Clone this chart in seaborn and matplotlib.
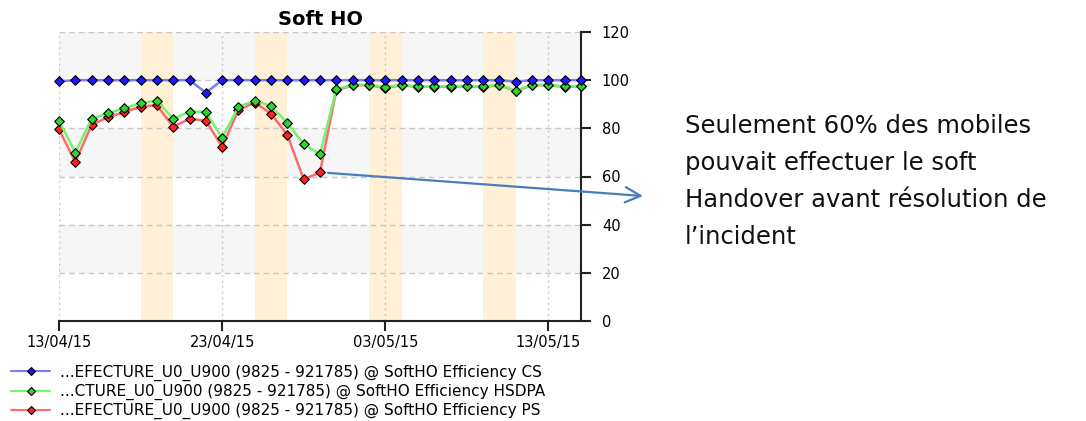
import matplotlib
matplotlib.use("Agg")
import matplotlib.pyplot as plt
import matplotlib.dates as mdates
from matplotlib.lines import Line2D
import numpy as np
import pandas as pd
import seaborn as sns

# daily samples 13/04/15 -> 15/05/15
dates = pd.date_range("2015-04-13", "2015-05-15", freq="D")

cs = [99.5, 100, 100, 100, 100, 100, 100, 100, 100, 94.8, 100, 100, 100, 100, 100, 100, 100,
      100, 100, 100, 100, 100, 100, 100, 100, 100, 100, 100, 99.4, 100, 100, 100, 100]
hsdpa = [83.2, 69.9, 84.0, 86.2, 88.3, 90.5, 91.5, 84.0, 86.9, 86.9, 76.0, 89.0, 91.5, 89.3, 82.2, 73.5, 69.2,
         96.2, 98.1, 98.1, 97.0, 98.1, 97.4, 97.4, 97.4, 97.7, 97.4, 98.1, 95.6, 98.1, 98.1, 97.4, 97.7]
ps = [79.6, 66.0, 81.4, 84.6, 86.7, 89.0, 89.6, 80.7, 83.9, 83.2, 72.3, 87.6, 90.7, 86.1, 77.2, 58.8, 61.7,
      95.8, 97.8, 97.9, 96.8, 97.9, 97.2, 97.2, 97.2, 97.5, 97.2, 97.9, 95.4, 97.9, 97.9, 97.2, 97.5]

weekends = ["2015-04-18", "2015-04-25", "2015-05-02", "2015-05-09"]
xticks = ["2015-04-13", "2015-04-23", "2015-05-03", "2015-05-13"]
yticks = [0, 20, 40, 60, 80, 100, 120]

labels = {
    "CS": "...EFECTURE_U0_U900 (9825 - 921785) @ SoftHO Efficiency CS",
    "HSDPA": "...CTURE_U0_U900 (9825 - 921785) @ SoftHO Efficiency HSDPA",
    "PS": "...EFECTURE_U0_U900 (9825 - 921785) @ SoftHO Efficiency PS",
}
line_col = {"CS": "#7b7bff", "HSDPA": "#6ff56f", "PS": "#ff6b6b"}
mark_col = {"CS": "#1a1aff", "HSDPA": "#2fd42f", "PS": "#ff2020"}

df = pd.concat([
    pd.DataFrame({"date": dates, "value": ps, "series": "PS"}),
    pd.DataFrame({"date": dates, "value": hsdpa, "series": "HSDPA"}),
    pd.DataFrame({"date": dates, "value": cs, "series": "CS"}),
])

sns.set_style("white")
plt.rcParams["font.family"] = ["DejaVu Sans"]
plt.rcParams["text.color"] = "black"

fig = plt.figure(figsize=(10.86, 4.21), dpi=100)
ax = fig.add_axes([59 / 1086, 100 / 421, 522 / 1086, 289 / 421])

# background bands
for lo in [20, 60, 100]:
    ax.axhspan(lo, lo + 20, color="#f6f6f6", zorder=0, lw=0)
for w in weekends:
    s = pd.Timestamp(w)
    ax.axvspan(s, s + pd.Timedelta(days=2), color="#fff0d6", zorder=0.5, lw=0)

for k, name in enumerate(["PS", "HSDPA", "CS"]):
    sub = df[df["series"] == name]
    sns.lineplot(data=sub, x="date", y="value", color=line_col[name], lw=1.8, ax=ax,
                 legend=False, zorder=3 + k, clip_on=False)
    sns.scatterplot(data=sub, x="date", y="value", color=mark_col[name], marker="D", s=24,
                    edgecolor="black", linewidth=0.8, ax=ax, legend=False, zorder=3.5 + k,
                    clip_on=False)

ax.set_xlim(dates[0], dates[-1])
ax.set_ylim(0, 120)
ax.set_xticks(pd.to_datetime(xticks))
ax.xaxis.set_major_formatter(mdates.DateFormatter("%d/%m/%y"))
ax.set_yticks(yticks)
ax.yaxis.tick_right()
ax.set_xlabel("")
ax.set_ylabel("")

ax.grid(False)
for y in yticks[1:]:
    ax.axhline(y, color="#c8c8c8", ls=(0, (4, 3)), lw=1, zorder=1)
for x in pd.to_datetime(xticks):
    ax.axvline(x, color="#c8c8c8", ls=(0, (1.5, 2.5)), lw=1, zorder=1)

for side in ["left", "top"]:
    ax.spines[side].set_visible(False)
for side in ["right", "bottom"]:
    ax.spines[side].set_color("#222222")
    ax.spines[side].set_linewidth(1.5)
ax.tick_params(axis="both", direction="out", length=7, width=1.5, color="#222222",
               labelsize=10.5, labelcolor="black", pad=3)
ax.tick_params(axis="y", right=True, left=False, pad=8)
ax.tick_params(axis="x", bottom=True)

ax.set_title("Soft HO", fontsize=14, fontweight="bold", pad=5, color="black")

handles = [Line2D([0], [0], color=line_col[n], lw=1.5, marker="D", markersize=4.5,
                  markerfacecolor=mark_col[n], markeredgecolor="black", markeredgewidth=0.8)
           for n in ["CS", "HSDPA", "PS"]]
fig.legend(handles, [labels[n] for n in ["CS", "HSDPA", "PS"]], loc="upper left",
           bbox_to_anchor=(0.0, 1 - 354 / 421), frameon=False, fontsize=11,
           handlelength=2.6, handletextpad=0.6, labelspacing=0.2, borderaxespad=0.3)

# annotation
ax.annotate("", xy=(643, 421 - 196), xycoords="figure pixels",
            xytext=(pd.Timestamp("2015-04-29 12:00"), 61.5), textcoords="data",
            arrowprops=dict(arrowstyle="->,head_length=1.1,head_width=0.55",
                            color="#4a7ebb", lw=1.6, shrinkA=0, shrinkB=0))
fig.text(685 / 1086, 1 - 114 / 421,
         "Seulement 60% des mobiles\npouvait effectuer le soft\nHandover avant résolution de\nl\u2019incident",
         fontsize=17.5, va="top", ha="left", linespacing=1.68, color="#111111")

fig.savefig("out.png", dpi=100)
